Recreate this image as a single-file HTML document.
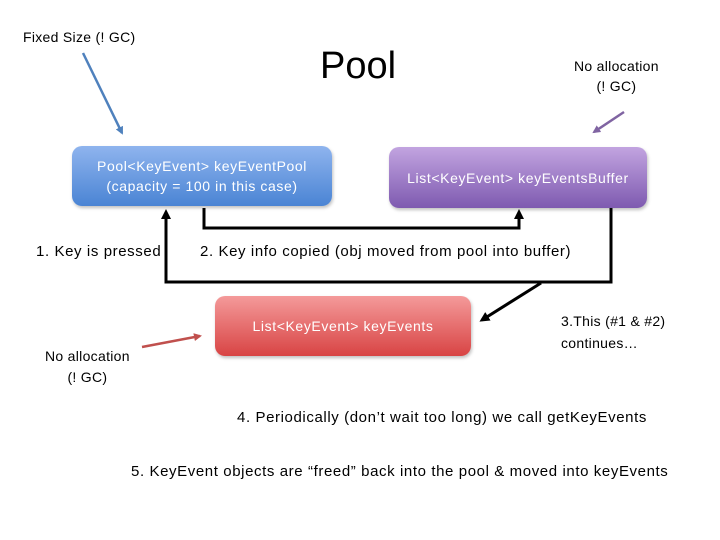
<!DOCTYPE html>
<html><head><meta charset="utf-8"><style>
body{margin:0;width:720px;height:540px;background:#fff;position:relative;overflow:hidden;font-family:"Liberation Sans",sans-serif;}
.t{position:absolute;font-size:15px;letter-spacing:0.6px;color:#000;white-space:nowrap;}
.s{font-size:14px;letter-spacing:0.3px;}
.box{position:absolute;border-radius:10px;color:#fff;font-size:14px;letter-spacing:0.6px;display:flex;align-items:center;justify-content:center;text-align:center;line-height:20px;box-shadow:1px 2px 3px rgba(0,0,0,.25);}
</style></head><body>
<svg width="720" height="540" style="position:absolute;left:0;top:0">
<defs>
<marker id="a" markerWidth="10" markerHeight="10" refX="7" refY="5" orient="auto" markerUnits="userSpaceOnUse"><path d="M0,0 L10,5 L0,10 z" fill="#000"/></marker>
<marker id="b" markerWidth="8" markerHeight="8" refX="6" refY="4" orient="auto" markerUnits="userSpaceOnUse"><path d="M0,0 L8,4 L0,8 z" fill="#4f81bd"/></marker>
<marker id="p" markerWidth="8" markerHeight="8" refX="6" refY="4" orient="auto" markerUnits="userSpaceOnUse"><path d="M0,0 L8,4 L0,8 z" fill="#8064a2"/></marker>
<marker id="r" markerWidth="8" markerHeight="8" refX="6" refY="4" orient="auto" markerUnits="userSpaceOnUse"><path d="M0,0 L8,4 L0,8 z" fill="#c0504d"/></marker>
</defs>
<line x1="83" y1="53" x2="122" y2="133" stroke="#4f81bd" stroke-width="2.5" marker-end="url(#b)"/>
<line x1="624" y1="112" x2="594" y2="132" stroke="#8064a2" stroke-width="2.5" marker-end="url(#p)"/>
<line x1="142" y1="347" x2="200" y2="336" stroke="#c0504d" stroke-width="2.5" marker-end="url(#r)"/>
<polyline points="204,208 204,228 519,228 519,212" fill="none" stroke="#000" stroke-width="3" marker-end="url(#a)"/>
<polyline points="611,208 611,282 166,282 166,212" fill="none" stroke="#000" stroke-width="3" marker-end="url(#a)"/>
<line x1="541" y1="283" x2="482" y2="320" stroke="#000" stroke-width="3" marker-end="url(#a)"/>
</svg>
<div class="t s" style="left:23px;top:29px">Fixed Size (! GC)</div>
<div class="t" style="left:320px;top:44px;font-size:38px;line-height:44px;letter-spacing:0">Pool</div>
<div class="t s" style="left:574px;top:56px;text-align:center;line-height:20px">No allocation<br>(! GC)</div>
<div class="box" style="left:72px;top:146px;width:260px;height:60px;background:linear-gradient(#8fb4ee,#4a84d4)">Pool&lt;KeyEvent&gt; keyEventPool<br>(capacity = 100 in this case)</div>
<div class="box" style="left:389px;top:147px;width:258px;height:61px;background:linear-gradient(#c2a4e0,#7e5ab0)">List&lt;KeyEvent&gt; keyEventsBuffer</div>
<div class="box" style="left:215px;top:296px;width:256px;height:60px;background:linear-gradient(#f49a9a,#d84444)">List&lt;KeyEvent&gt; keyEvents</div>
<div class="t" style="left:36px;top:243px">1. Key is pressed</div>
<div class="t" style="left:200px;top:243px">2. Key info copied (obj moved from pool into buffer)</div>
<div class="t s" style="left:561px;top:310px;line-height:22px">3.This (#1 &amp; #2)<br>continues…</div>
<div class="t s" style="left:45px;top:346px;text-align:center;line-height:21px">No allocation<br>(! GC)</div>
<div class="t" style="left:237px;top:409px">4. Periodically (don’t wait too long) we call getKeyEvents</div>
<div class="t" style="left:131px;top:463px">5. KeyEvent objects are “freed” back into the pool &amp; moved into keyEvents</div>
</body></html>
